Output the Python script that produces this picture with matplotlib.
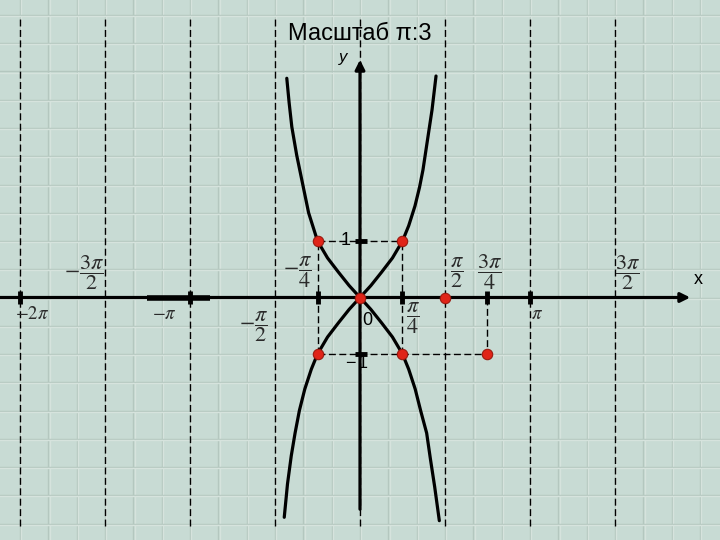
import numpy as np
import matplotlib
matplotlib.use("Agg")
import matplotlib.pyplot as plt

plt.rcParams['mathtext.fontset'] = 'stix'

PI = np.pi

# curve y = tan x (bottom-left -> top-right)
tan_x = [-1.40, -1.34, -1.27, -1.20, -1.12, -1.02, -0.90, -0.785, -0.60, -0.40, -0.20, 0.0,
         0.20, 0.40, 0.60, 0.785, 0.90, 1.016, 1.10, 1.164, 1.238, 1.331, 1.405]
tan_y = [-3.89, -3.30, -2.80, -2.40, -2.00, -1.62, -1.27, -1.00, -0.70, -0.45, -0.21, 0.0,
         0.21, 0.45, 0.70, 1.00, 1.27, 1.62, 1.95, 2.26, 2.73, 3.32, 3.92]

# curve y = -tan x (top-left -> bottom-right)
ntan_x = [-1.353, -1.31, -1.26, -1.17, -1.075, -0.95, -0.785, -0.60, -0.40, -0.20, 0.0,
          0.20, 0.40, 0.60, 0.785, 0.90, 1.02, 1.12, 1.232, 1.30, 1.38, 1.466]
ntan_y = [3.88, 3.45, 3.02, 2.52, 2.08, 1.50, 1.00, 0.70, 0.45, 0.21, 0.0,
          -0.21, -0.45, -0.70, -1.00, -1.27, -1.62, -2.00, -2.40, -2.85, -3.35, -3.95]

# red points
pts_x = [-PI / 4, PI / 4, 0, -PI / 4, PI / 4, PI / 2, 3 * PI / 4]
pts_y = [1, 1, 0, -1, -1, 0, -1]

# dashed asymptote / period lines (multiples of pi/2)
vlines_x = [k * PI / 2 for k in range(-4, 4)]
# tick marks on x axis
xticks = [-2 * PI, -PI, -PI / 4, PI / 4, 3 * PI / 4, PI]
yticks = [1, -1]

# x axis labels: (text, x, y, size)
labels = [
    (r'$-\dfrac{3\pi}{2}$', -5.10, 0.45, 16),
    (r'$-2\pi$', -6.06, -0.28, 13.5),
    (r'$-\pi$', -3.62, -0.28, 13.5),
    (r'$-\dfrac{\pi}{4}$', -1.16, 0.45, 16),
    (r'$-\dfrac{\pi}{2}$', -1.97, -0.52, 16),
    (r'$\dfrac{\pi}{4}$', 0.98, -0.36, 16),
    (r'$\dfrac{\pi}{2}$', 1.79, 0.45, 16),
    (r'$\dfrac{3\pi}{4}$', 2.40, 0.45, 16),
    (r'$\pi$', 3.27, -0.28, 13.5),
    (r'$\dfrac{3\pi}{2}$', 4.95, 0.45, 16),
]

BG = '#c8dbd4'
px_x = 54.11   # pixels per radian
px_y = 56.5    # pixels per unit

fig = plt.figure(figsize=(7.2, 5.4), dpi=100)
fig.patch.set_facecolor(BG)
ax = fig.add_axes([0, 0, 1, 1])
ax.set_facecolor(BG)
ax.set_xlim(-360 / px_x, 360 / px_x)
ax.set_ylim(-242.5 / px_y, 297.5 / px_y)
ax.axis('off')

# background grid: a darker line with a light line beside it
for k in range(-13, 14):
    gx = k * PI / 6
    ax.axvline(gx, color='#b4c7bf', lw=1.0, zorder=0)
    ax.axvline(gx + 1.2 / px_x, color='#d6e3dd', lw=1.0, zorder=0)
for k in range(-9, 12):
    gy = k * 0.5
    ax.axhline(gy, color='#b4c7bf', lw=1.0, zorder=0)
    ax.axhline(gy - 1.2 / px_y, color='#d6e3dd', lw=1.0, zorder=0)

# long dashed vertical lines
y_top, y_bot = (297.5 - 17) / px_y, (297.5 - 526) / px_y
for vx in vlines_x:
    ax.plot([vx, vx], [y_bot, y_top], color='black', lw=1.0, dashes=(5, 2.5), zorder=1)

# helper dashed lines
dash = dict(color='black', lw=1.0, dashes=(5, 2.5), zorder=2)
ax.plot([-PI / 4, PI / 4], [1, 1], **dash)
ax.plot([-PI / 4, 3 * PI / 4], [-1, -1], **dash)
ax.plot([-PI / 4, -PI / 4], [-1, 1], **dash)
ax.plot([PI / 4, PI / 4], [-1, 1], **dash)
ax.plot([3 * PI / 4, 3 * PI / 4], [0, -1], **dash)

# axes with arrows
ax.annotate('', xy=(333 / px_x, 0), xytext=(-7.0, 0),
            arrowprops=dict(arrowstyle='-|>', lw=2.3, color='black', mutation_scale=14), zorder=3)
ax.annotate('', xy=(0, (297.5 - 57) / px_y), xytext=(0, (297.5 - 512) / px_y),
            arrowprops=dict(arrowstyle='-|>', lw=2.3, color='black', mutation_scale=14), zorder=3)
ax.plot([-213 / px_x, -150 / px_x], [0, 0], color='black', lw=4.0, solid_capstyle='butt', zorder=3)

for tx in xticks:
    ax.plot([tx, tx], [-0.12, 0.12], color='black', lw=3.5, solid_capstyle='butt', zorder=3)
for ty in yticks:
    ax.plot([-5 / px_x, 7 / px_x], [ty, ty], color='black', lw=3.5, solid_capstyle='butt', zorder=3)

# curves
ax.plot(tan_x, tan_y, color='black', lw=2.3, solid_capstyle='round', solid_joinstyle='round', zorder=4)
ax.plot(ntan_x, ntan_y, color='black', lw=2.3, solid_capstyle='round', solid_joinstyle='round', zorder=4)

ax.plot(pts_x, pts_y, 'o', ms=7.5, mfc='#e02418', mec='#9a1a10', mew=0.8, zorder=5)

# labels
for txt, lx, ly, fs in labels:
    ax.text(lx, ly, txt, fontsize=fs, color='#2a2a2a', ha='center', va='center')

ax.text(-0.17, 1.0, '1', fontsize=13, ha='right', va='center', family='Liberation Sans')
ax.text(-0.05, -1.17, '\u2212\u200a1', fontsize=13, ha='center', va='center',
        family=['Liberation Sans', 'DejaVu Sans'])
ax.text(7 / px_x, -0.41, '0', fontsize=13, ha='center', va='center', family='Liberation Sans')
ax.text(-17 / px_x, (297.5 - 58) / px_y, 'y', fontsize=12, style='italic', ha='center', va='center',
        family='Liberation Sans')
ax.text(338 / px_x, (297.5 - 280) / px_y, 'x', fontsize=13, ha='center', va='center',
        family='Liberation Sans')
ax.text(0, (297.5 - 34) / px_y, 'Масштаб \u03c0:3', fontsize=17, ha='center', va='center',
        family='Liberation Sans')

fig.savefig('out.png', dpi=100, facecolor=BG)
